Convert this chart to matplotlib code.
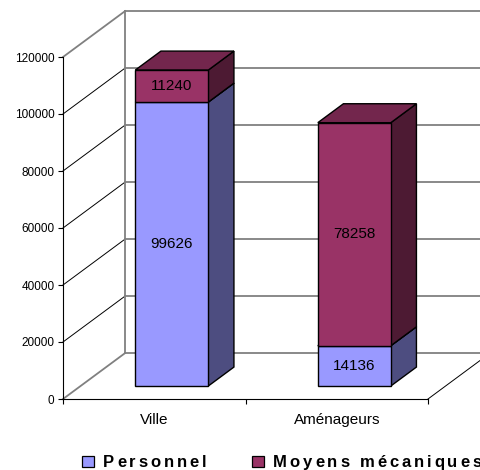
import matplotlib
matplotlib.use('Agg')
import matplotlib.pyplot as plt
from matplotlib.patches import Polygon, Rectangle

plt.rcParams['font.family'] = ['Liberation Sans', 'DejaVu Sans']

# data
categories = ['Ville', 'Aménageurs']
personnel = [99626, 14136]
moyens = [11240, 78258]
series_names = ['Personnel', 'Moyens mécaniques']
yticks = [0, 20000, 40000, 60000, 80000, 100000, 120000]

# colours (Excel 2003 default palette)
front_cols = ['#9999FF', '#993366']
top_cols = ['#7373BF', '#73264D']
side_cols = ['#4D4D80', '#4D1A33']
grey = '#808080'

# fake 3d: oblique offset of the full floor depth, in data units
DX = 0.34
DY = 16100
F0, F1 = 0.283, 0.696   # bar depth, as fraction of floor depth
BAR_W = 0.4

W, H = 481, 470
fig = plt.figure(figsize=(W / 100, H / 100), dpi=100)
ax = fig.add_axes([63 / W, 71 / H, 365 / W, 342 / H])
ax.set_xlim(0, 2)
ax.set_ylim(0, 120000)
ax.set_facecolor('none')
for s in ['top', 'right']:
    ax.spines[s].set_visible(False)
for s in ['left', 'bottom']:
    ax.spines[s].set_linewidth(0.8)
    ax.spines[s].set_zorder(6)

ax.set_yticks(yticks)
ax.set_yticklabels([str(v) for v in yticks])
ax.tick_params(axis='y', direction='out', length=3.6, width=0.8, pad=2.5, labelsize=8.5)
ax.set_xticks([0, 1, 2])
ax.set_xticklabels([])
ax.set_xticks([0.5, 1.5], minor=True)
ax.set_xticklabels(categories, minor=True)
ax.tick_params(axis='x', which='major', direction='out', length=3.6, width=0.8)
ax.tick_params(axis='x', which='minor', length=0, pad=10, labelsize=11)

# walls
nc = len(categories)
for v in yticks:
    edge = v in (yticks[0], yticks[-1])
    ax.plot([0, DX], [v, v + DY], color=grey if edge else 'black',
            lw=1.3 if edge else 0.7, clip_on=False, zorder=1)
    ax.plot([DX, nc + DX], [v + DY, v + DY], color=grey, lw=1.3, clip_on=False, zorder=1)
ax.plot([DX, DX], [DY, yticks[-1] + DY], color=grey, lw=1.3, clip_on=False, zorder=1)
ax.plot([nc, nc + DX], [0, DY], color='black', lw=0.7, clip_on=False, zorder=1)


def faces(x0, x1, v0, v1):
    a = (F0 * DX, F0 * DY)
    b = (F1 * DX, F1 * DY)
    front = [(x0 + a[0], v0 + a[1]), (x1 + a[0], v0 + a[1]),
             (x1 + a[0], v1 + a[1]), (x0 + a[0], v1 + a[1])]
    side = [(x1 + a[0], v0 + a[1]), (x1 + b[0], v0 + b[1]),
            (x1 + b[0], v1 + b[1]), (x1 + a[0], v1 + a[1])]
    top = [(x0 + a[0], v1 + a[1]), (x1 + a[0], v1 + a[1]),
           (x1 + b[0], v1 + b[1]), (x0 + b[0], v1 + b[1])]
    return front, side, top


z = 3
for i in range(nc):
    x0 = i + 0.5 - BAR_W / 2
    x1 = i + 0.5 + BAR_W / 2
    bottom = 0
    for k, vals in enumerate([personnel, moyens]):
        v = vals[i]
        front, side, top = faces(x0, x1, bottom, bottom + v)
        for pts, col in [(side, side_cols[k]), (top, top_cols[k]), (front, front_cols[k])]:
            ax.add_patch(Polygon(pts, closed=True, facecolor=col, edgecolor='black',
                                 lw=1.0, joinstyle='miter', clip_on=False, zorder=z))
            z += 0.01
        ax.text(i + 0.5 + F0 * DX, bottom + v / 2 + F0 * DY, str(v),
                ha='center', va='center', fontsize=11, zorder=z + 1)
        bottom += v

# legend, with the wide letter spacing of the original
renderer = fig.canvas.get_renderer()


def spaced_text(x_px, y_px, s, gap_px, **kw):
    for j, ch in enumerate(s):
        if j == 0:
            off = 0
        else:
            t = fig.text(0, 0, s[:j] + '|', **kw)
            tb = fig.text(0, 0, '|', **kw)
            off = t.get_window_extent(renderer).width - tb.get_window_extent(renderer).width
            t.remove()
            tb.remove()
        fig.text((x_px + off + j * gap_px) / W, (H - y_px) / H, ch,
                 ha='left', va='baseline', **kw)


leg_x = [82, 252]
for k, name in enumerate(series_names):
    fig.add_artist(Rectangle((leg_x[k] / W, (H - 467) / H), 12 / W, 11 / H,
                             transform=fig.transFigure, facecolor=front_cols[k],
                             edgecolor='black', lw=0.9))
    spaced_text(leg_x[k] + 21, 467, name, 2.9, fontsize=12, fontweight='bold')

fig.savefig('out.png', dpi=100, facecolor='white')
